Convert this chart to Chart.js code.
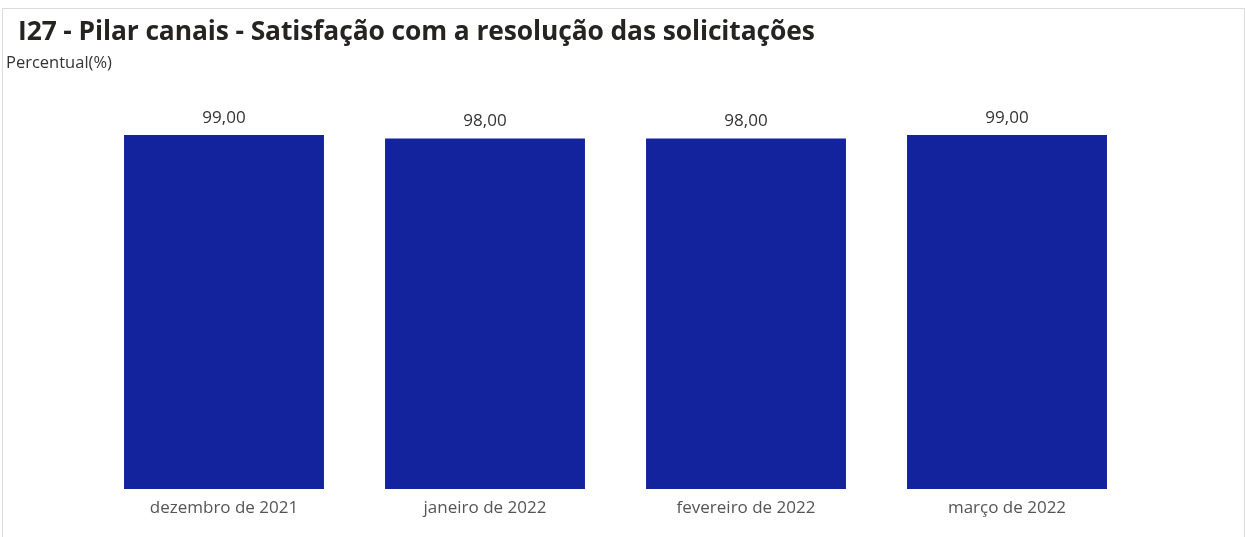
<!DOCTYPE html>
<html>
<head>
<meta charset="utf-8">
<script src="https://cdn.jsdelivr.net/npm/chart.js@4"></script>
<style>
  html, body { margin: 0; padding: 0; background: #fff; }
  body { width: 1247px; height: 537px; position: relative; overflow: hidden; font-family: "Open Sans", "Noto Sans", sans-serif; }
  #frame { position: absolute; left: 2px; top: 8px; width: 1241px; height: 540px; border: 1px solid #dcdcdc; }
  #title { position: absolute; left: 18px; top: 12px; font-size: 26.4px; font-weight: 700; color: #252423; white-space: nowrap; letter-spacing: -0.1px; }
  #subtitle { position: absolute; left: 6px; top: 50px; font-size: 16.5px; color: #333; white-space: nowrap; }
  #chart { position: absolute; left: 0; top: 0; }
</style>
</head>
<body>
<div id="frame"></div>
<canvas id="chart" width="1247" height="537"></canvas>
<div id="title">I27 - Pilar canais - Satisfação com a resolução das solicitações</div>
<div id="subtitle">Percentual(%)</div>
<script>
const months = ['dezembro de 2021', 'janeiro de 2022', 'fevereiro de 2022', 'março de 2022'];
const satisfaction = [99, 98, 98, 99];

// draws the value above each bar, pt-BR style (99,00)
const valueLabels = {
  id: 'valueLabels',
  afterDatasetsDraw(chart) {
    const ctx = chart.ctx;
    const meta = chart.getDatasetMeta(0);
    ctx.save();
    ctx.font = '17px "Open Sans", "Noto Sans", sans-serif';
    ctx.fillStyle = '#333333';
    ctx.textAlign = 'center';
    ctx.textBaseline = 'middle';
    meta.data.forEach((bar, i) => {
      const txt = satisfaction[i].toFixed(2).replace('.', ',');
      ctx.fillText(txt, bar.x, bar.y - 17);
    });
    ctx.restore();
  }
};

const ctx = document.getElementById('chart').getContext('2d');
const chart = new Chart(ctx, {
  type: 'bar',
  data: {
    labels: months,
    datasets: [{
      label: 'Percentual(%)',
      data: satisfaction,
      backgroundColor: '#13239D',
      borderWidth: 0,
      categoryPercentage: 1.0,
      barPercentage: 0.766
    }]
  },
  options: {
    responsive: false,
    animation: false,
    layout: {
      padding: { left: 93.5, right: 109.5, top: 131.4, bottom: 8 }
    },
    scales: {
      x: {
        grid: { display: false, drawTicks: false },
        border: { display: false },
        ticks: {
          padding: 9,
          color: '#555555',
          font: { family: '"Open Sans", "Noto Sans", sans-serif', size: 17 }
        },
        afterFit(axis) { axis.height = 40; }
      },
      y: {
        display: false,
        min: 0,
        max: 100
      }
    },
    plugins: {
      legend: { display: false },
      tooltip: { enabled: false }
    }
  },
  plugins: [valueLabels]
});
</script>
</body>
</html>
